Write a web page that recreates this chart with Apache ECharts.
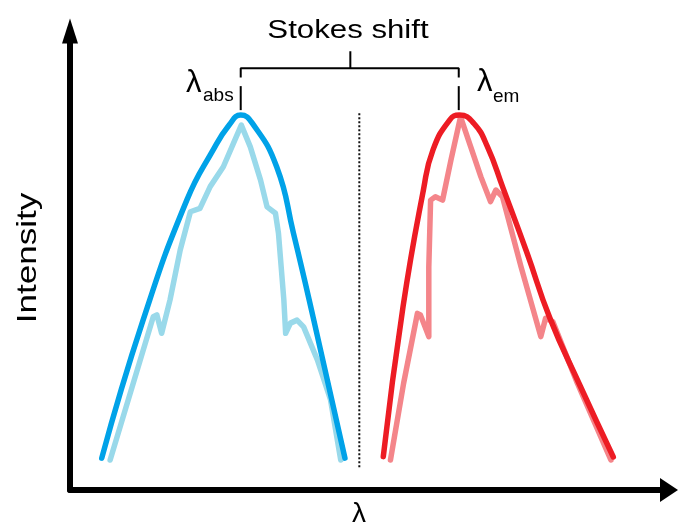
<!DOCTYPE html>
<html>
<head>
<meta charset="utf-8">
<script src="https://cdn.jsdelivr.net/npm/echarts@6/dist/echarts.min.js"></script>
<style>html,body{margin:0;padding:0;background:#fff;}#c{width:679px;height:528px;}</style>
</head>
<body>
<div id="c"></div>
<script>
// Absorption spectrum (smooth envelope) — wavelength (a.u.) / intensity (a.u.)
var absDarkX = [5.3, 12.2, 19.5, 23.9, 26.6, 28.5, 30.4, 34.5, 37.3, 40.6, 45.9];
var absDarkY = [8.5, 45.3, 77.3, 90.7, 97.4, 100, 97.9, 86.2, 68.5, 46, 8.5];
// Absorption spectrum (vibronic structure)
var absLightX = [6.7, 13.9, 14.5, 15.3, 16.7, 18.4, 20.1, 21.7, 23.4, 25.6, 27.3, 28.6, 30.1, 31.8, 32.9, 34.3, 34.8, 35.7, 36.0, 36.8, 37.9, 39.0, 41.3, 43.5, 45.2];
var absLightY = [8, 46.2, 46.7, 41.8, 50.7, 64, 74.2, 75.1, 80.9, 86.2, 92.5, 97.3, 91.5, 82.7, 75.5, 73.8, 68.5, 50.7, 41.8, 44.5, 45.3, 43.5, 34.7, 24, 8];
// Emission spectrum (smooth envelope)
var emDarkX = [52.3, 55.6, 59.0, 60.6, 63.4, 65.0, 67.4, 69.7, 72.3, 76.3, 80.1, 85.1, 90.7];
var emDarkY = [8.9, 48.9, 80, 90.7, 98.7, 100, 97.8, 91.5, 80.5, 63.2, 45.9, 28, 8.8];
// Emission spectrum (vibronic structure)
var emLightX = [53.5, 55.7, 58.0, 58.5, 59.9, 59.9, 60.2, 61.0, 62.2, 63.6, 65.2, 66.9, 68.6, 70.2, 71.1, 72.2, 75.3, 78.6, 79.4, 80.6, 84.7, 90.3];
var emLightY = [8, 28.5, 47.1, 46.7, 40.9, 59.5, 77.3, 78.2, 77.3, 88, 99.5, 91.5, 83.5, 76.9, 80, 78.2, 59.5, 40.9, 45.8, 44.9, 28.5, 8];
// Dotted separator
var sepX = [48.3, 48.3];
var sepY = [6.1, 100.5];
// Stokes-shift bracket
var lambdaAbs = 28.5, lambdaEm = 64.9, bracketMid = 46.8;
var bracketY = 112.5, bracketTop = 117, bracketEnd = 110.0, tickTop = 107.7, tickBottom = 101.3;
// Texts
var yTitle = 'Intensity';
var xTitle = 'λ';
var shiftTitle = 'Stokes shift';

function zip(xs, ys) { return xs.map(function (x, i) { return [x, ys[i]]; }); }

var chart = echarts.init(document.getElementById('c'), null, {renderer: 'canvas'});
var ff = '"Liberation Sans", Arial, sans-serif';

function lineSeries(data, color, width, extra) {
  var s = {
    type: 'line', data: data, showSymbol: false, symbol: 'none', silent: true,
    lineStyle: {color: color, width: width, cap: 'round', join: 'round'},
    animation: false, z: 2
  };
  if (extra) { for (var k in extra) s[k] = extra[k]; }
  return s;
}

function txt(x, y, text, size, align, extra) {
  var g = {type: 'text', x: x, y: y,
    style: {text: text, font: size + 'px ' + ff, fill: '#000', align: align, verticalAlign: 'middle'}};
  if (extra) { for (var k in extra) g[k] = extra[k]; }
  return g;
}

var option = {
  animation: false,
  backgroundColor: '#fff',
  grid: {left: 70, right: 10, top: 31, bottom: 38},
  xAxis: {
    type: 'value', min: 0, max: 100,
    axisLine: {show: true, symbol: ['none', 'triangle'], symbolSize: [24, 18],
      lineStyle: {color: '#000', width: 6}},
    axisTick: {show: false}, axisLabel: {show: false}, splitLine: {show: false}
  },
  yAxis: {
    type: 'value', min: 0, max: 122.4,
    axisLine: {show: true, symbol: ['none', 'triangle'], symbolSize: [16, 25],
      lineStyle: {color: '#000', width: 6}},
    axisTick: {show: false}, axisLabel: {show: false}, splitLine: {show: false}
  },
  series: [
    lineSeries(zip(absLightX, absLightY), '#99D9EA', 5.5),
    lineSeries(zip(absDarkX, absDarkY), '#00A2E8', 5.5, {smooth: 0.5}),
    lineSeries(zip(emLightX, emLightY), '#F4858A', 5.5),
    lineSeries(zip(emDarkX, emDarkY), '#ED1C24', 5.5, {smooth: 0.5}),
    {type: 'line', data: zip(sepX, sepY), symbol: 'none', silent: true,
      lineStyle: {color: '#111', width: 2, type: [2, 2]}},
    {type: 'line', data: [[lambdaAbs, bracketEnd], [lambdaAbs, bracketY], [lambdaEm, bracketY], [lambdaEm, bracketEnd]],
      symbol: 'none', silent: true, lineStyle: {color: '#000', width: 2}},
    {type: 'line', data: [[bracketMid, bracketY], [bracketMid, bracketTop]],
      symbol: 'none', silent: true, lineStyle: {color: '#000', width: 2}},
    {type: 'line', data: [[lambdaAbs, tickBottom], [lambdaAbs, tickTop]],
      symbol: 'none', silent: true, lineStyle: {color: '#000', width: 2}},
    {type: 'line', data: [[lambdaEm, tickBottom], [lambdaEm, tickTop]],
      symbol: 'none', silent: true, lineStyle: {color: '#000', width: 2}}
  ],
  graphic: [
    txt(348, 31, shiftTitle, 26, 'center', {scaleX: 1.2}),
    txt(28, 258, yTitle, 28, 'center', {rotation: Math.PI / 2, scaleX: 1.25}),
    txt(359, 514, xTitle, 28, 'center'),
    txt(186, 83, 'λ', 31, 'left'),
    txt(203, 96, 'abs', 19, 'left'),
    txt(477, 82, 'λ', 31, 'left'),
    txt(493, 97, 'em', 19, 'left')
  ]
};
chart.setOption(option);
</script>
</body>
</html>
